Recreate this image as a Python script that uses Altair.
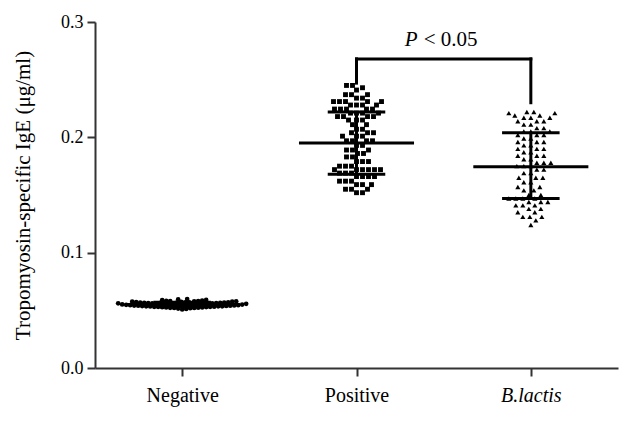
import altair as alt
import pandas as pd

groups = ["Negative", "Positive", "B.lactis"]

negative = [0.0508, 0.0512, 0.0515, 0.0518, 0.052, 0.052, 0.0522, 0.0523, 0.0525, 0.0525,
            0.0527, 0.0528, 0.053, 0.053, 0.053, 0.0532, 0.0533, 0.0535, 0.0535, 0.0535,
            0.0537, 0.0538, 0.054, 0.054, 0.054, 0.0541, 0.0542, 0.0543, 0.0545, 0.0545,
            0.0546, 0.0547, 0.0548, 0.055, 0.055, 0.055, 0.0551, 0.0552, 0.0553, 0.0555,
            0.0555, 0.0556, 0.0557, 0.0558, 0.056, 0.056, 0.056, 0.0561, 0.0562, 0.0563,
            0.0565, 0.0565, 0.0566, 0.0567, 0.0568, 0.057, 0.057, 0.057, 0.0572, 0.0573,
            0.0575, 0.0575, 0.0577, 0.0578, 0.058, 0.058, 0.0582, 0.0585, 0.0588, 0.059,
            0.0595, 0.0598]

positive = [0.245, 0.245, 0.243, 0.241, 0.237, 0.237, 0.237, 0.234, 0.234,
            0.231, 0.231, 0.231, 0.231, 0.231, 0.228, 0.228, 0.228, 0.228,
            0.2245, 0.2245, 0.2245, 0.2245, 0.2245, 0.221, 0.221, 0.221, 0.221,
            0.218, 0.218, 0.218, 0.218, 0.215, 0.215, 0.215, 0.211, 0.211,
            0.207, 0.207, 0.204, 0.204, 0.204, 0.201, 0.201, 0.201,
            0.197, 0.197, 0.197, 0.197, 0.193, 0.193, 0.189, 0.189, 0.189,
            0.186, 0.186, 0.183, 0.183, 0.179, 0.179, 0.179, 0.175, 0.175, 0.175,
            0.172, 0.172, 0.172, 0.172, 0.172, 0.172, 0.169, 0.169, 0.169,
            0.166, 0.166, 0.166, 0.166, 0.162, 0.162, 0.162, 0.159, 0.159, 0.159,
            0.155, 0.155, 0.155, 0.152, 0.152]

blactis = [0.222, 0.222, 0.221, 0.221, 0.219, 0.219, 0.217, 0.217, 0.217,
           0.214, 0.214, 0.214, 0.211, 0.211, 0.208, 0.208, 0.205, 0.205, 0.205,
           0.202, 0.202, 0.202, 0.199, 0.199, 0.196, 0.196, 0.196, 0.193, 0.193,
           0.190, 0.190, 0.190, 0.187, 0.187, 0.184, 0.184, 0.184, 0.181, 0.181,
           0.178, 0.178, 0.178, 0.175, 0.175, 0.175, 0.172, 0.172, 0.169, 0.169,
           0.165, 0.165, 0.165, 0.161, 0.161, 0.157, 0.157, 0.154, 0.154,
           0.150, 0.150, 0.147, 0.147, 0.147, 0.147, 0.144, 0.144, 0.144,
           0.141, 0.141, 0.141, 0.138, 0.138, 0.135, 0.135, 0.131, 0.131, 0.131,
           0.128, 0.124]

means = [0.055, 0.195, 0.1745]
sd_hi = [0.057, 0.222, 0.204]
sd_lo = [0.053, 0.168, 0.147]

bracket_y = 0.268
bracket_left_bottom = 0.247
bracket_right_bottom = 0.230
p_label_y = 0.284

W, H = 523, 346
Y_MAX = 0.3
PX_PER_UNIT = H / Y_MAX
STEP_PX = W / 3.0


def swarm(vals, d_px, step=1.0):
    placed = []
    out = []
    cands = [0.0]
    k = 1
    while k < 200:
        cands += [k * step, -k * step]
        k += 1
    for v in sorted(vals):
        y = v * PX_PER_UNIT
        for c in cands:
            if all((c - px) ** 2 + (y - py) ** 2 >= d_px ** 2 for px, py in placed):
                break
        placed.append((c, y))
        out.append((v, c))
    return out


rows = []
for gi, (g, vals, d) in enumerate(zip(groups, [negative, positive, blactis], [3.7, 5.6, 6.4])):
    for v, off in swarm(vals, d):
        rows.append({"group": g, "value": v, "pos": gi + off / STEP_PX})
pts = pd.DataFrame(rows)

summ = pd.DataFrame({
    "idx": [0, 1, 2],
    "mean": means, "hi": sd_hi, "lo": sd_lo,
})
summ["mx1"] = summ["idx"] - 0.33
summ["mx2"] = summ["idx"] + 0.33
summ["sx1"] = summ["idx"] - 0.165
summ["sx2"] = summ["idx"] + 0.165

xscale = alt.Scale(domain=[-0.5, 2.5], nice=False, zero=False)
yscale = alt.Scale(domain=[0, Y_MAX], nice=False, zero=True)

label_expr = "datum.value == 0 ? 'Negative' : datum.value == 1 ? 'Positive' : 'B.lactis'"

points = alt.Chart(pts).mark_point(filled=True, opacity=1, color="black").encode(
    x=alt.X("pos:Q", scale=xscale, title=None, axis=alt.Axis(
        values=[0, 1, 2], labelExpr=label_expr, labelFontSize=20,
        labelFontStyle=alt.condition("datum.value == 2", alt.value("italic"), alt.value("normal")),
    )),
    y=alt.Y("value:Q", scale=yscale, title="Tropomyosin-specific IgE (μg/ml)", axis=alt.Axis(
        values=[0, 0.1, 0.2, 0.3], format=".1f", labelFontSize=18,
    )),
    shape=alt.Shape("group:N", scale=alt.Scale(domain=groups, range=["circle", "square", "triangle-up"]), legend=None),
    size=alt.Size("group:N", scale=alt.Scale(domain=groups, range=[22, 26, 30]), legend=None),
)

base = alt.Chart(summ)
mean_rule = base.mark_rule(color="black", strokeWidth=3).encode(
    x=alt.X("mx1:Q", scale=xscale), x2="mx2:Q",
    y=alt.Y("mean:Q", scale=yscale),
)
hi_rule = base.mark_rule(color="black", strokeWidth=3).encode(
    x=alt.X("sx1:Q", scale=xscale), x2="sx2:Q",
    y=alt.Y("hi:Q", scale=yscale),
)
lo_rule = base.mark_rule(color="black", strokeWidth=3).encode(
    x=alt.X("sx1:Q", scale=xscale), x2="sx2:Q",
    y=alt.Y("lo:Q", scale=yscale),
)
vert_rule = base.mark_rule(color="black", strokeWidth=3).encode(
    x=alt.X("idx:Q", scale=xscale),
    y=alt.Y("lo:Q", scale=yscale), y2="hi:Q",
)

br = pd.DataFrame({
    "x1": [1, 1, 2], "x2": [2, 1, 2],
    "y1": [bracket_y, bracket_left_bottom, bracket_right_bottom],
    "y2": [bracket_y, bracket_y, bracket_y],
})
bracket = alt.Chart(br).mark_rule(color="black", strokeWidth=3, strokeCap="square").encode(
    x=alt.X("x1:Q", scale=xscale), x2="x2:Q",
    y=alt.Y("y1:Q", scale=yscale), y2="y2:Q",
)

ptxt = pd.DataFrame({"x": [1.5], "y": [p_label_y]})
p_italic = alt.Chart(ptxt).mark_text(
    text="P", font="Liberation Serif", fontSize=21, fontStyle="italic",
    align="right", baseline="middle", dx=-26, color="black",
).encode(x=alt.X("x:Q", scale=xscale), y=alt.Y("y:Q", scale=yscale))
p_rest = alt.Chart(ptxt).mark_text(
    text="< 0.05", font="Liberation Serif", fontSize=21,
    align="left", baseline="middle", dx=-20, color="black",
).encode(x=alt.X("x:Q", scale=xscale), y=alt.Y("y:Q", scale=yscale))

chart = alt.layer(
    points, mean_rule, hi_rule, lo_rule, vert_rule, bracket, p_italic, p_rest
).properties(
    width=W, height=H,
    autosize=alt.AutoSizeParams(type="none"),
    padding={"left": 87, "top": 14, "right": 6, "bottom": 45},
).configure_view(stroke=None).configure_axis(
    grid=False,
    domainColor="#333333", domainWidth=2,
    tickColor="#333333", tickWidth=2, tickSize=8,
    labelFont="Liberation Serif", labelColor="black",
    titleFont="Liberation Serif", titleFontSize=21, titleFontWeight="normal", titleColor="black",
    labelPadding=4,
).configure_axisY(titlePadding=27).configure_axisX(labelPadding=9)

chart.save("out.html", embed_options={"renderer": "svg", "actions": False})
